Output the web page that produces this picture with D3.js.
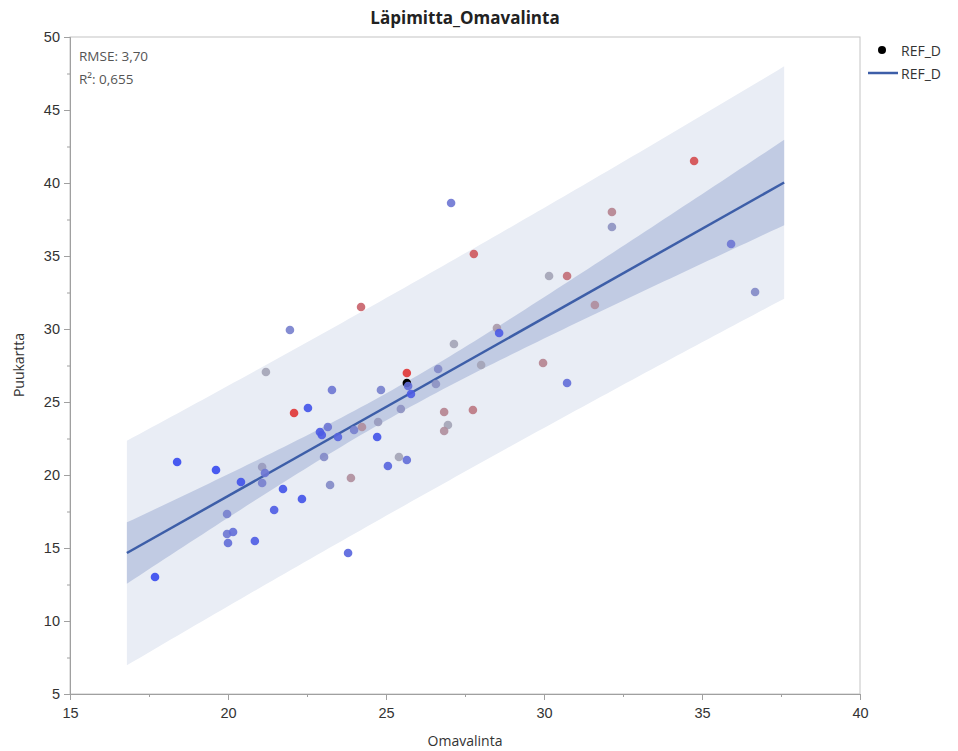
<!DOCTYPE html>
<html>
<head>
<meta charset="utf-8">
<script src="https://cdn.jsdelivr.net/npm/d3@7"></script>
<style>
  body { margin: 0; background: #fff; }
  svg { font-family: "Open Sans", "Noto Sans", sans-serif; }
</style>
</head>
<body>
<svg width="958" height="751"></svg>
<script>
// values
const omavalinta = [17.69, 18.39, 19.62, 20.41, 19.97, 19.97, 20.16, 20.00, 20.85, 21.08,
  21.17, 21.08, 21.74, 22.34, 21.46, 21.96, 21.20, 23.29, 22.53, 22.09,
  22.91, 22.97, 23.16, 23.48, 23.04, 24.84, 25.66, 25.79, 25.70, 25.47,
  23.99, 24.24, 24.75, 24.72, 25.41, 25.66, 25.06, 23.89, 23.23, 23.80,
  24.21, 27.15, 26.65, 26.58, 28.01, 28.51, 28.58, 26.84, 27.75, 26.96,
  26.84, 27.06, 27.78, 34.75, 32.15, 32.15, 35.92, 30.16, 30.73, 31.61,
  36.68, 29.97, 30.73];
const puukartta = [13.01, 20.89, 20.34, 19.52, 17.33, 15.96, 16.10, 15.34, 15.48, 20.55,
  20.14, 19.45, 19.04, 18.36, 17.60, 29.93, 27.05, 25.82, 24.59, 24.25,
  22.95, 22.74, 23.29, 22.60, 21.23, 25.82, 26.99, 25.55, 26.10, 24.52,
  23.08, 23.29, 23.63, 22.60, 21.23, 21.03, 20.62, 19.79, 19.32, 14.66,
  31.51, 28.97, 27.26, 26.23, 27.53, 30.07, 29.73, 24.32, 24.45, 23.42,
  23.01, 38.63, 35.14, 41.51, 38.01, 36.99, 35.82, 33.63, 33.63, 31.64,
  32.53, 27.67, 26.30];
// colour variable: 0 = blue, 0.5 = grey, 1 = red
const tone = [0, 0, 0, 0.05, 0.3, 0.25, 0.2, 0.2, 0.1, 0.45,
  0.25, 0.3, 0.05, 0.05, 0.1, 0.3, 0.5, 0.25, 0.05, 1,
  0.1, 0.1, 0.25, 0.15, 0.35, 0.3, 1, 0.1, 0.2, 0.4,
  0.3, 0.6, 0.45, 0.05, 0.5, 0.2, 0.15, 0.6, 0.35, 0.15,
  0.8, 0.5, 0.35, 0.4, 0.5, 0.55, 0.1, 0.65, 0.7, 0.5,
  0.6, 0.25, 0.85, 0.9, 0.65, 0.4, 0.25, 0.5, 0.75, 0.6,
  0.35, 0.65, 0.2];
const refPoint = [25.66, 26.30];

// fit summary
const fitCoef = [-5.84, 1.22];      // intercept, slope
const fitRange = [16.8, 37.6];
const fitN = 64, fitXbar = 25.22, fitSxx = 1092, rmse = 3.70, tCrit = 2.0;
const statLines = ["RMSE: 3,70", "R²: 0,655"];

const xTicks = [15, 20, 25, 30, 35, 40];
const yTicks = [5, 10, 15, 20, 25, 30, 35, 40, 45, 50];

const svg = d3.select("svg");
const pL = 70, pR = 860, pT = 37, pB = 694;

const x = d3.scaleLinear().domain([15, 40]).range([pL, pR]);
const y = d3.scaleLinear().domain([5, 50]).range([pB, pT]);

// bands
const fitY = v => fitCoef[0] + fitCoef[1] * v;
const lev = v => 1 / fitN + (v - fitXbar) ** 2 / fitSxx;
const grid = d3.range(fitRange[0], fitRange[1] + 0.001, 0.2);
const band = (k) => d3.area()
  .x(v => x(v))
  .y0(v => y(fitY(v) - tCrit * rmse * Math.sqrt(k + lev(v))))
  .y1(v => y(fitY(v) + tCrit * rmse * Math.sqrt(k + lev(v))));

svg.append("path").datum(grid).attr("d", band(1)).attr("fill", "#e9edf5");
svg.append("path").datum(grid).attr("d", band(0)).attr("fill", "#c1cbe3");
svg.append("path").datum(fitRange)
  .attr("d", d3.line().x(v => x(v)).y(v => y(fitY(v))))
  .attr("stroke", "#3d5ea8").attr("stroke-width", 2.5).attr("fill", "none");

// frame
svg.append("rect").attr("x", pL).attr("y", pT)
  .attr("width", pR - pL).attr("height", pB - pT)
  .attr("fill", "none").attr("stroke", "#c4c4c4");

// points
const colour = d3.scaleLinear().domain([0, 0.5, 1])
  .range(["#3649ef", "#a3a3b6", "#e03535"]);

svg.append("circle").attr("cx", x(refPoint[0])).attr("cy", y(refPoint[1]))
  .attr("r", 4.3).attr("fill", "#000");

svg.selectAll(".pt").data(omavalinta).enter().append("circle")
  .attr("class", "pt")
  .attr("cx", d => x(d))
  .attr("cy", (d, i) => y(puukartta[i]))
  .attr("r", 4.3)
  .attr("fill", (d, i) => colour(tone[i]))
  .attr("fill-opacity", 0.9);

// axes
const styleAxis = g => {
  g.select(".domain").attr("stroke", "#a0a0a0");
  g.selectAll(".tick line").attr("stroke", "#a0a0a0");
  g.selectAll(".tick text").attr("fill", "#333").attr("font-size", 14.5);
};

svg.append("g").attr("transform", `translate(0,${pB})`)
  .call(d3.axisBottom(x).tickValues(xTicks).tickSize(6).tickSizeOuter(0).tickPadding(8))
  .call(styleAxis);
svg.append("g").attr("transform", `translate(0,${pB})`)
  .call(d3.axisBottom(x).tickValues(xTicks.slice(0, -1).map(v => v + 2.5)).tickSize(3).tickFormat(""))
  .call(styleAxis);
svg.append("g").attr("transform", `translate(${pL},0)`)
  .call(d3.axisLeft(y).tickValues(yTicks).tickSize(6).tickSizeOuter(0).tickPadding(4))
  .call(styleAxis);
svg.append("g").attr("transform", `translate(${pL},0)`)
  .call(d3.axisLeft(y).tickValues(yTicks.slice(0, -1).map(v => v + 2.5)).tickSize(3).tickFormat(""))
  .call(styleAxis);

// titles
svg.append("text").attr("x", 465).attr("y", 24).attr("text-anchor", "middle")
  .attr("font-size", 17).attr("font-weight", "bold").attr("fill", "#222")
  .text("Läpimitta_Omavalinta");
svg.append("text").attr("x", 465).attr("y", 746).attr("text-anchor", "middle")
  .attr("font-size", 14).attr("fill", "#333").text("Omavalinta");
svg.append("text").attr("transform", "translate(24,365) rotate(-90)")
  .attr("text-anchor", "middle").attr("font-size", 14).attr("fill", "#333")
  .text("Puukartta");

svg.selectAll(".stat").data(statLines).enter().append("text")
  .attr("class", "stat").attr("x", 79).attr("y", (d, i) => 61 + i * 23)
  .attr("font-size", 13.5).attr("fill", "#555").text(d => d);

// legend
const lg = svg.append("g");
lg.append("circle").attr("cx", 882).attr("cy", 50).attr("r", 4).attr("fill", "#000");
lg.append("text").attr("x", 901).attr("y", 56).attr("font-size", 14).attr("fill", "#333").text("REF_D");
lg.append("line").attr("x1", 868).attr("x2", 898).attr("y1", 73).attr("y2", 73)
  .attr("stroke", "#3d5ea8").attr("stroke-width", 2.5);
lg.append("text").attr("x", 901).attr("y", 79).attr("font-size", 14).attr("fill", "#333").text("REF_D");
</script>
</body>
</html>
